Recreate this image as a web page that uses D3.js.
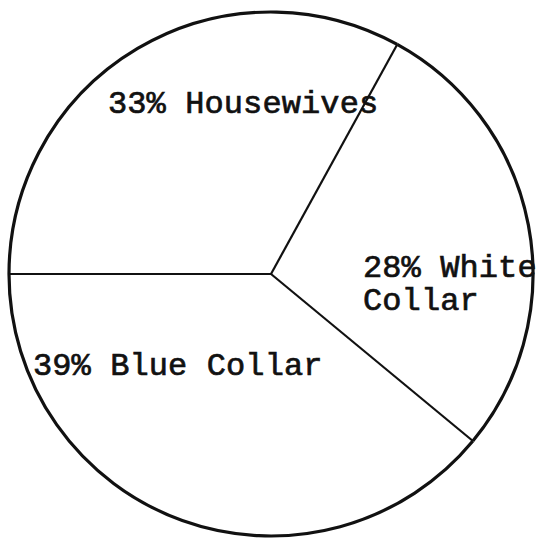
<!DOCTYPE html>
<html>
<head>
<meta charset="utf-8">
<script src="https://cdn.jsdelivr.net/npm/d3@7"></script>
<style>
  body { margin: 0; background: #fff; }
  svg text { font-family: "Liberation Mono", "DejaVu Sans Mono", monospace; fill: #111; stroke: #111; stroke-width: 0.7px; }
</style>
</head>
<body>
<svg id="chart" width="538" height="542"></svg>
<script>
// data
const categories = ['Housewives', 'White Collar', 'Blue Collar']
const shares = [33, 28, 39]
// label lines as typed on the original
const labelLines = [
	['33% Housewives'],
	['28% White', 'Collar'],
	['39% Blue Collar']
]

const W = 538
const H = 542
const cx = 271
const cy = 274
const radius = 262

// where each label's first baseline starts, relative to the centre
const labelPos = [
	{ x: -163, y: -161 },
	{ x: 92, y: 3 },
	{ x: -238, y: 101 }
]

const svg = d3.select('#chart')
const g = svg.append('g').attr('transform', 'translate(' + cx + ',' + cy + ')')

const pie = d3.pie()
	.sort(null)
	.value((d) => d)
	.startAngle(-Math.PI / 2)
	.endAngle(Math.PI * 1.5)

const arcs = pie(shares)

// spokes: one per slice boundary
g.selectAll('line.spoke')
	.data(arcs)
	.enter().append('line')
		.attr('class', 'spoke')
		.attr('x1', 0)
		.attr('y1', 0)
		.attr('x2', (d) => radius * Math.sin(d.startAngle))
		.attr('y2', (d) => -radius * Math.cos(d.startAngle))
		.style('stroke', '#111')
		.style('stroke-width', 2.2)

// outline
g.selectAll('path.slice')
	.data(arcs)
	.enter().append('path')
		.attr('class', 'slice')
		.attr('d', d3.arc().innerRadius(radius).outerRadius(radius))
		.style('fill', 'none')
		.style('stroke', '#111')
		.style('stroke-width', 3.2)

// labels
const labels = g.selectAll('text.label')
	.data(arcs)
	.enter().append('text')
		.attr('class', 'label')
		.attr('x', (d, i) => labelPos[i].x)
		.attr('y', (d, i) => labelPos[i].y)
		.style('font-size', '32px')
		.style('letter-spacing', '0.1px')

labels.selectAll('tspan')
	.data((d, i) => labelLines[i].map((t) => ({ t: t, i: i })))
	.enter().append('tspan')
		.attr('x', (d) => labelPos[d.i].x)
		.attr('dy', (d, j) => j === 0 ? 0 : 33)
		.text((d) => d.t)
</script>
</body>
</html>
